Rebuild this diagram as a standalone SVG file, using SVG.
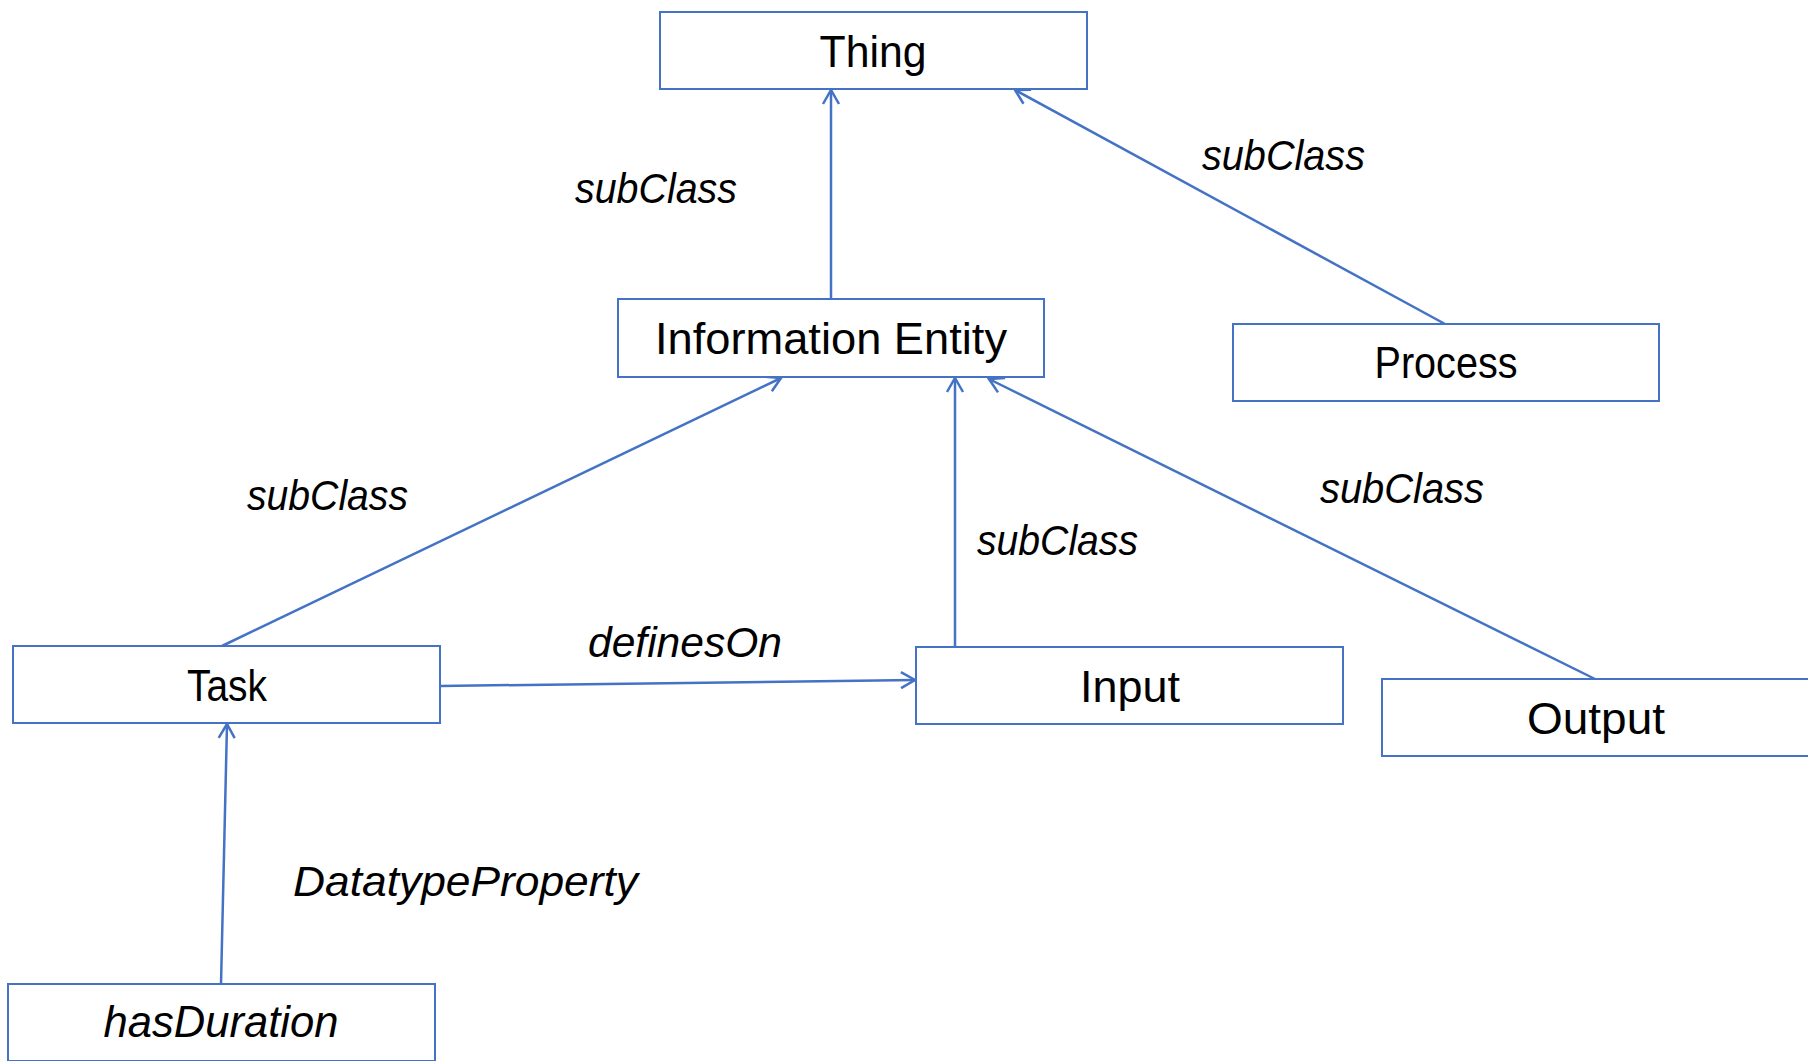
<svg xmlns="http://www.w3.org/2000/svg" width="1808" height="1061" viewBox="0 0 1808 1061">
<style>
.box{fill:#fff;stroke:#4472c4;stroke-width:2}
.t{font-family:"Liberation Sans",Arial,sans-serif;font-size:44px;fill:#000;text-anchor:middle}
.i{font-style:italic}
.lbl{font-family:"Liberation Sans",Arial,sans-serif;font-size:42px;font-style:italic;fill:#000}
.c{stroke:#4472c4;stroke-width:2.5;fill:none;marker-end:url(#arr)}
</style>
<defs>
<marker id="arr" viewBox="0 0 20 20" refX="18" refY="10" markerWidth="20" markerHeight="20" markerUnits="userSpaceOnUse" orient="auto">
<path d="M4,2 L18,10 L4,18" fill="none" stroke="#4472c4" stroke-width="2.5"/>
</marker>
</defs>
<rect width="1808" height="1061" fill="#fff"/>
<g id="connectors">
<line class="c" x1="831" y1="299" x2="831" y2="90"/>
<line class="c" x1="1445" y1="324" x2="1015" y2="90"/>
<line class="c" x1="222" y1="646" x2="781" y2="378"/>
<line class="c" x1="955" y1="647" x2="955" y2="378"/>
<line class="c" x1="1595" y1="679" x2="989" y2="379"/>
<line class="c" x1="440" y1="686" x2="915" y2="680"/>
<line class="c" x1="221" y1="984" x2="227" y2="724"/>
</g>
<g id="labels">
<text class="lbl" x="575" y="203" textLength="162" lengthAdjust="spacingAndGlyphs">subClass</text>
<text class="lbl" x="1202" y="170" textLength="163" lengthAdjust="spacingAndGlyphs">subClass</text>
<text class="lbl" x="247" y="510" textLength="161" lengthAdjust="spacingAndGlyphs">subClass</text>
<text class="lbl" x="977" y="555" textLength="161" lengthAdjust="spacingAndGlyphs">subClass</text>
<text class="lbl" x="1320" y="503" textLength="164" lengthAdjust="spacingAndGlyphs">subClass</text>
<text class="lbl" x="588" y="657" textLength="194" lengthAdjust="spacingAndGlyphs">definesOn</text>
<text class="lbl" x="293" y="896" textLength="345" lengthAdjust="spacingAndGlyphs">DatatypeProperty</text>
</g>
<g id="thing">
<rect class="box" x="660" y="12" width="427" height="77"/>
<text class="t" x="873" y="67" textLength="107" lengthAdjust="spacingAndGlyphs">Thing</text>
</g>
<g id="information-entity">
<rect class="box" x="618" y="299" width="426" height="78"/>
<text class="t" x="831" y="354" textLength="352" lengthAdjust="spacingAndGlyphs">Information Entity</text>
</g>
<g id="process">
<rect class="box" x="1233" y="324" width="426" height="77"/>
<text class="t" x="1446" y="378" textLength="143" lengthAdjust="spacingAndGlyphs">Process</text>
</g>
<g id="task">
<rect class="box" x="13" y="646" width="427" height="77"/>
<text class="t" x="227" y="701" textLength="80" lengthAdjust="spacingAndGlyphs">Task</text>
</g>
<g id="input">
<rect class="box" x="916" y="647" width="427" height="77"/>
<text class="t" x="1130" y="702" textLength="100" lengthAdjust="spacingAndGlyphs">Input</text>
</g>
<g id="output">
<rect class="box" x="1382" y="679" width="427" height="77"/>
<text class="t" x="1596" y="734" textLength="138" lengthAdjust="spacingAndGlyphs">Output</text>
</g>
<g id="hasDuration">
<rect class="box" x="8" y="984" width="427" height="77"/>
<text class="t i" x="221" y="1037" textLength="235" lengthAdjust="spacingAndGlyphs">hasDuration</text>
</g>
</svg>
